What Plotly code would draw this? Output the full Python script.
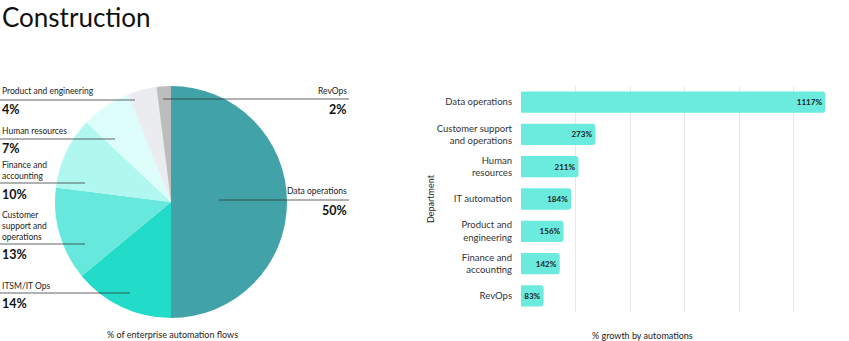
import plotly.graph_objects as go

# Pie data (clockwise from 12 o'clock)
pie_labels = ["Data operations", "ITSM/IT Ops", "Customer support and operations",
              "Finance and accounting", "Human resources", "Product and engineering", "RevOps"]
pie_values = [50, 14, 13, 10, 7, 4, 2]
pie_colors = ["#41A3A8", "#22DBC9", "#66E8DC", "#B0F7F0", "#DDFDFB", "#EBECF0", "#BDBDBD"]

# Bar data
bar_categories = ["Data operations", "Customer support<br>and operations", "Human<br>resources",
                  "IT automation", "Product and<br>engineering", "Finance and<br>accounting", "RevOps"]
bar_values = [1117, 273, 211, 184, 156, 142, 83]

W, H = 849, 341
FONT = "Lato"

fig = go.Figure()

fig.add_trace(go.Pie(
    labels=pie_labels, values=pie_values, sort=False, direction="clockwise", rotation=0,
    marker=dict(colors=pie_colors, line=dict(width=0)),
    textinfo="none", showlegend=False, hoverinfo="label+percent",
    domain=dict(x=[55 / W, 287 / W], y=[1 - 318 / H, 1 - 86 / H]),
))

fig.add_trace(go.Bar(
    y=bar_categories, x=bar_values, orientation="h",
    marker=dict(color="#6AEBDE", line=dict(width=0), cornerradius=3),
    text=[f"{v}%" for v in bar_values], textposition="inside", insidetextanchor="end",
    textfont=dict(family=FONT, size=8, color="#1a1a1a", weight="bold"),
    showlegend=False, xaxis="x", yaxis="y",
))

fig.update_layout(
    width=W, height=H, margin=dict(l=0, r=0, t=0, b=0),
    paper_bgcolor="white", plot_bgcolor="white",
    font=dict(family=FONT, color="#222"),
    bargap=0.34,
    xaxis=dict(domain=[521 / W, 848 / W], range=[0, 1200], dtick=200, tick0=0,
               showticklabels=False, showgrid=True, gridcolor="#e8e8e8", gridwidth=1,
               zeroline=False, showline=False, ticks=""),
    yaxis=dict(domain=[1 - 312 / H, 1 - 86 / H], autorange="reversed",
               showgrid=False, zeroline=False, ticks="", ticklabelstandoff=8,
               tickfont=dict(family=FONT, size=9.5, color="#333")),
)

ann = []
shapes = []

def txt(x, y, s, size=8.5, anchor="left", bold=False, color="#222"):
    ann.append(dict(x=x / W, y=1 - y / H, xref="paper", yref="paper", text=s, showarrow=False,
                    xanchor=anchor, yanchor="middle", align=anchor,
                    font=dict(family=FONT, size=size, color=color, weight="bold" if bold else "normal")))

def line(x0, x1, y):
    shapes.append(dict(type="line", xref="paper", yref="paper", x0=x0 / W, x1=x1 / W,
                       y0=1 - y / H, y1=1 - y / H, line=dict(color="rgba(50,50,50,0.75)", width=1)))

# Title
txt(0, 17, "Construction", size=26, color="#111")

# Left pie labels: (label text, value index, text y, line y, line x end, pct y)
left_specs = [
    ("Product and engineering", 5, 91, 100, 135, 110),
    ("Human resources", 4, 131, 139, 115, 148),
    ("Finance and<br>accounting", 3, 170.5, 183, 85, 194),
    ("Customer<br>support and<br>operations", 2, 226, 244, 85, 254),
    ("ITSM/IT Ops", 1, 286, 293, 130, 303),
]
for label, i, ty, ly, lx, py in left_specs:
    txt(0, ty, label, size=8.5)
    line(0, lx, ly)
    txt(0, py, f"{pie_values[i]}%", size=12.5, bold=True, color="#111")

right_specs = [
    ("RevOps", 6, 91, 99, 163, 110),
    ("Data operations", 0, 191.5, 200, 219, 210),
]
for label, i, ty, ly, lx, py in right_specs:
    txt(349, ty, label, size=8.5, anchor="right")
    line(lx, 349, ly)
    txt(349, py, f"{pie_values[i]}%", size=12.5, bold=True, color="#111", anchor="right")

# Axis titles
txt(172, 334, "% of enterprise automation flows", size=9, anchor="center")
txt(642, 335, "% growth by automations", size=9, anchor="center")
ann.append(dict(x=430 / W, y=1 - 199 / H, xref="paper", yref="paper", text="Department",
                showarrow=False, textangle=-90, xanchor="center", yanchor="middle",
                font=dict(family=FONT, size=9, color="#222")))

fig.update_layout(annotations=ann, shapes=shapes)
fig.write_html("out.html")
